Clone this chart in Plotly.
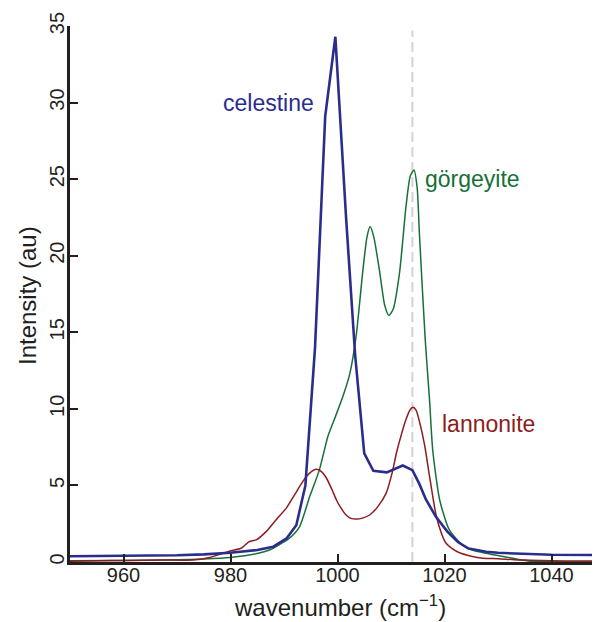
import plotly.graph_objects as go

# celestine (blue)
cel_x = [950, 960, 970, 975, 980, 985, 988, 990.5, 992.3, 994.0, 995.8, 997.7, 999.6,
         1001.6, 1003.3, 1005.0, 1006.7, 1009.2, 1012.2, 1014.0, 1015.3, 1016.5, 1018.4,
         1020.5, 1022.5, 1024.5, 1027.8, 1030, 1035, 1040, 1051]
cel_y = [0.38, 0.40, 0.44, 0.50, 0.60, 0.78, 1.0, 1.55, 2.4, 5.0, 14.0, 29.1, 34.3,
         22.5, 13.5, 7.1, 5.95, 5.85, 6.3, 6.0, 5.1, 4.1, 2.95,
         2.0, 1.3, 0.88, 0.67, 0.6, 0.52, 0.47, 0.45]

# görgeyite (green)
gor_x = [950, 960, 970, 975, 980, 985, 987.3, 989, 991, 992.9, 994.8, 996.6, 998.2, 999.4,
         1001.0, 1002.3, 1003.5, 1004.7, 1005.5, 1006.1, 1006.8, 1007.9, 1008.8, 1009.6,
         1010.4, 1011.6, 1012.8, 1013.6, 1014.3, 1014.9, 1015.3, 1016.4, 1017.2, 1017.8,
         1019.1, 1020.9, 1023.4, 1025.5, 1027.8, 1030, 1032.8, 1036, 1040, 1051]
gor_y = [0.08, 0.1, 0.15, 0.2, 0.3, 0.55, 0.78, 1.1, 1.55, 2.3, 4.27, 6.0, 8.2, 9.3,
         10.8, 12.3, 14.8, 18.9, 21.2, 21.9, 21.2, 18.9, 16.8, 16.1,
         16.5, 18.9, 23.2, 25.2, 25.6, 24.4, 21.5, 14.5, 10.6, 7.3,
         4.05, 2.1, 1.1, 0.75, 0.57, 0.42, 0.24, 0.05, 0.02, 0.02]

# lannonite (red)
lan_x = [950, 955, 960, 966.7, 972.9, 976.1, 978, 980.1, 982, 983.5, 984.8, 986.7, 988.5,
         990.4, 992, 993.5, 994.8, 996.0, 997.0, 997.9, 999.0, 999.8, 1000.7, 1001.6,
         1002.5, 1003.5, 1004.8, 1006.0, 1007.5, 1009.1, 1010.2, 1011.0, 1012.0, 1012.8,
         1013.5, 1014.1, 1014.7, 1015.3, 1016.3, 1017.2, 1018.4, 1019.4, 1020.3, 1021.5,
         1022.8, 1025, 1027.2, 1030, 1033, 1036, 1040, 1045, 1051]
lan_y = [0.05, 0.08, 0.1, 0.13, 0.13, 0.3, 0.5, 0.74, 0.9, 1.33, 1.44, 2.0, 2.75,
         3.5, 4.4, 5.25, 5.8, 6.05, 5.9, 5.5, 4.7, 4.05, 3.5, 3.07,
         2.85, 2.8, 2.88, 3.07, 3.6, 4.5, 5.8, 7.1, 8.4, 9.3,
         9.9, 10.1, 9.9, 9.2, 7.6, 5.6, 3.1, 1.9, 1.22, 0.85,
         0.6, 0.38, 0.25, 0.22, 0.15, 0.12, 0.08, 0.06, 0.06]

x_ticks = [960, 980, 1000, 1020, 1040]
y_ticks = [0, 5, 10, 15, 20, 25, 30, 35]
marker_x = 1014
names = ["celestine", "görgeyite", "lannonite"]
label_pos = [(978.3, 30.0), (1015.9, 25.0), (1019.1, 9.0)]
x_title = "wavenumber (cm<sup>−1</sup>)"
y_title = "Intensity (au)"

BLUE = "#2b2d8c"
GREEN = "#17703a"
RED = "#8c1c20"
DARK = "#231f20"
FONT = "Liberation Sans"

fig = go.Figure()
fig.add_shape(type="line", x0=marker_x, x1=marker_x, y0=0, y1=34.7, xref="x", yref="y",
              line=dict(color="#d3d3d3", width=2, dash="10px,5px"), layer="below")
fig.add_trace(go.Scatter(x=gor_x, y=gor_y, mode="lines", line=dict(color=GREEN, width=1.5, shape="spline", smoothing=0.6), name=names[1]))
fig.add_trace(go.Scatter(x=lan_x, y=lan_y, mode="lines", line=dict(color=RED, width=1.5, shape="spline", smoothing=0.6), name=names[2]))
fig.add_trace(go.Scatter(x=cel_x, y=cel_y, mode="lines", line=dict(color=BLUE, width=2.6), name=names[0]))

for (lx, ly), nm, col in zip(label_pos, names, [BLUE, GREEN, RED]):
    fig.add_annotation(x=lx, y=ly, text=nm, showarrow=False, xanchor="left", yanchor="middle",
                       font=dict(family=FONT, size=23, color=col))

# axis titles as annotations for exact placement
fig.add_annotation(xref="paper", yref="paper", x=0.502, y=-0.082, text=x_title, showarrow=False,
                   xanchor="center", yanchor="middle", font=dict(family=FONT, size=24, color=DARK))
fig.add_annotation(xref="paper", yref="paper", x=-0.080, y=0.498, text=y_title, showarrow=False,
                   textangle=-90, xanchor="center", yanchor="middle", font=dict(family=FONT, size=24, color=DARK))

fig.update_layout(
    width=600, height=622,
    margin=dict(l=62, r=0, t=18, b=68),
    plot_bgcolor="white", paper_bgcolor="white",
    showlegend=False,
    font=dict(family=FONT, color=DARK),
)
fig.update_xaxes(range=[950, 1050.56], tickvals=x_ticks, ticks="inside", ticklen=8, tickwidth=1.5,
                 tickcolor=DARK, showline=True, linecolor=DARK, linewidth=3, showgrid=False, zeroline=False,
                 automargin=False, ticklabelstandoff=-7, tickfont=dict(size=20, family=FONT, color=DARK))
fig.update_yaxes(range=[0, 35], tickvals=y_ticks, ticks="inside", ticklen=8, tickwidth=1.5,
                 tickcolor=DARK, showline=True, linecolor=DARK, linewidth=3, showgrid=False, zeroline=False,
                 automargin=False, ticklabelstandoff=-5, tickangle=-90, tickfont=dict(size=20, family=FONT, color=DARK))

fig.write_html("out.html")
